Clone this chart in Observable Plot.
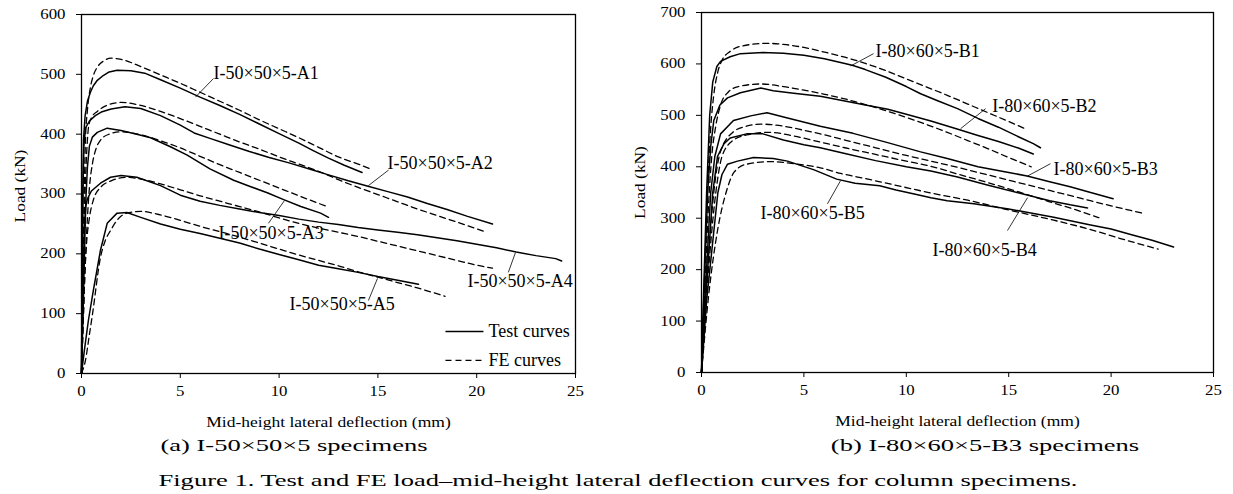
<!DOCTYPE html>
<html><head><meta charset="utf-8">
<script src="https://cdn.jsdelivr.net/npm/d3@7"></script>
<script src="https://cdn.jsdelivr.net/npm/@observablehq/plot@0.6"></script>
<style>
html,body{margin:0;padding:0;background:#fff;}
#fig{position:relative;width:1233px;height:494px;overflow:hidden;font-family:'Liberation Serif','Times New Roman',serif;color:#000;background:#fff;}
#fig svg{position:absolute;top:0;}
.cap{position:absolute;white-space:nowrap;font-size:17px;line-height:1;transform:translate(-50%,-50%) scaleX(1.56);}
</style></head><body><div id="fig"></div>
<script>
// ---------- tick labels ----------
const xTicks = [0, 5, 10, 15, 20, 25];
const yTicksA = [0, 100, 200, 300, 400, 500, 600];
const yTicksB = [0, 100, 200, 300, 400, 500, 600, 700];

// ---------- panel (a): I-50x50x5 specimens, [deflection mm, load kN] ----------
const A1_test = [[0,0],[0.03,150],[0.06,280],[0.1,390],[0.18,430],[0.3,455],[0.45,470],[0.6,481],[0.8,490],[1.1,498],[1.4,504],[1.8,507],[2.5,506],[3.2,502],[4,491],[5,477],[6,462],[7,448],[8,433],[9,417],[10,401],[11,385],[11.7,373],[12.5,360],[13.3,348],[14.2,336]];
const A1_FE = [[0,0],[0.05,120],[0.1,230],[0.15,320],[0.2,390],[0.3,440],[0.45,478],[0.6,498],[0.8,512],[1.1,522],[1.5,527],[2,525],[3,513],[4,499],[5,485],[6,470],[7,455],[8,440],[9,424],[10,409],[11,394],[12,378],[13,362],[14,350],[14.6,342]];
const A2_test = [[0,0],[0.03,150],[0.07,300],[0.12,380],[0.2,410],[0.4,422],[0.7,431],[1,437],[1.5,442],[2.2,446],[3,443],[4,431],[5,415],[5.7,402],[6.5,393],[7.5,382],[8.5,371],[9.5,361],[10.5,352],[11.7,340],[12.5,332],[13.5,322],[14.5,313],[15.5,304],[16.5,295],[17.5,284],[18.5,274],[19.5,263],[20.8,250]];
const A2_FE = [[0,0],[0.06,120],[0.12,230],[0.2,320],[0.28,380],[0.37,415],[0.55,430],[0.8,438],[1.2,447],[2,453],[3,448],[4,438],[5,426],[6,413],[7,400],[8,387],[9,375],[10,362],[11,350],[12,338],[13,324],[14,311],[15,299],[16,287],[17,275],[18,264],[19,253],[20.5,236]];
const A3_test = [[0,0],[0.08,100],[0.15,200],[0.22,290],[0.3,345],[0.4,380],[0.55,395],[0.8,403],[1.3,410],[2,406],[2.8,400],[3.5,394],[4.5,379],[5.35,365],[6.5,342],[7.7,323],[8.5,313],[9.4,302],[10.2,291],[11.1,279],[12.1,268],[12.5,261]];
const A3_FE = [[0,0],[0.1,100],[0.2,190],[0.3,260],[0.4,310],[0.55,350],[0.75,377],[0.96,390],[1.4,400],[2,404],[3,399],[4,389],[5,377],[6,363],[7,349],[8,336],[9,323],[10,310],[11,297],[12.35,280]];
const A4_test = [[0,0],[0.05,100],[0.1,190],[0.16,250],[0.22,280],[0.3,292],[0.5,305],[0.96,318],[1.47,328],[2,331],[2.8,328],[4,314],[5,298],[6,288],[7,281],[8,275],[9,269],[10,264],[11,258],[12,253],[13,249],[14,244],[15,240],[16,236],[17,232],[18,227],[19,222],[20,216],[21,210],[22,203],[23,197],[24,192],[24.3,188]];
const A4_FE = [[0,0],[0.08,80],[0.16,160],[0.25,215],[0.4,260],[0.6,290],[0.96,311],[1.5,322],[2.3,328],[3,325],[4,317],[5,307],[6,297],[7,288],[8,279],[9,270],[10,260],[11.1,250],[12,243],[13,236],[14,229],[15,221],[16,213],[17,205],[18,197],[19,189],[20,181],[20.8,176]];
const A5_test = [[0,0],[0.15,40],[0.35,89],[0.6,139],[0.96,206],[1.3,251],[1.8,268],[2.3,269],[3,261],[4,250],[5,241],[6,234],[7,226],[8,218],[9,208],[10,199],[11,190],[12,181],[13,175],[14,169],[15,162],[16,156],[17.05,149]];
const A5_FE = [[0,0],[0.2,22],[0.4,65],[0.56,100],[0.96,194],[1.2,222],[1.47,239],[1.9,260],[2.3,268],[3,271],[4,265],[5,256],[6,246],[7,237],[8,228],[9,218],[10,208],[11,198],[12,189],[13,180],[14,170],[15,161],[16,152],[17,143],[18.4,129]];

// ---------- panel (b): I-80x60x5 specimens ----------
const B1_test = [[0,0],[0.1,150],[0.25,350],[0.4,500],[0.55,565],[0.75,595],[0.93,605],[1.4,614],[1.9,620],[3,622],[4,621],[5,617],[6,610],[7,601],[7.4,597],[8,589],[9,574],[10,556],[10.7,542],[11.5,529],[12.5,513],[13.5,494],[14.5,477],[15.5,458],[16.2,445],[16.55,437]];
const B1_FE = [[0,0],[0.15,180],[0.3,360],[0.44,470],[0.6,540],[0.8,585],[1,607],[1.42,625],[2,635],[3.2,640],[4,638],[5,632],[6,623],[7,613],[8,601],[9,587],[10,571],[11,555],[12,539],[13,522],[14,505],[15,488],[15.8,474]];
const B2_test = [[0,0],[0.1,130],[0.3,350],[0.45,440],[0.6,490],[0.9,520],[1.27,534],[1.9,544],[2.9,553],[3.5,548],[4.5,543],[5.8,537],[7,528],[8,520],[9.1,512],[10,502],[11.2,489],[12.6,472],[13.5,461],[14.5,449],[15.5,436],[16.2,425]];
const B2_FE = [[0,0],[0.15,150],[0.35,330],[0.5,420],[0.7,480],[0.93,520],[1.3,545],[1.8,556],[2.9,561],[4,556],[5,549],[6,541],[7,532],[8,521],[9,509],[10,496],[11,482],[12,467],[13,451],[14,435],[15,418],[16.1,400]];
const B3_test = [[0,0],[0.15,130],[0.45,350],[0.65,420],[0.93,464],[1.56,490],[2.4,499],[3.2,505],[4.2,495],[5.8,479],[7.4,465],[9,448],[10.7,429],[12,416],[13.5,400],[15,389],[15.9,382],[17,371],[18,361],[19,350],[20.1,338]];
const B3_FE = [[0,0],[0.2,140],[0.6,350],[0.93,430],[1.56,468],[2.2,479],[2.9,483],[4,479],[5,471],[5.8,464],[7,452],[8,442],[9,432],[10,422],[11.2,411],[12.5,399],[14,384],[15.5,369],[17,354],[18.5,339],[20,324],[21.5,310]];
const B4_test = [[0,0],[0.2,140],[0.55,350],[0.78,420],[1.1,445],[1.4,456],[2.2,464],[3,464],[4,452],[5,443],[5.8,437],[7,426],[8.5,412],[10,400],[11.2,392],[12.5,380],[14,364],[15.9,345],[17,334],[18,326],[18.85,320]];
const B4_FE = [[0,0],[0.25,150],[0.7,350],[1,420],[1.5,450],[2.2,462],[3.3,467],[4.5,460],[5.8,448],[7,437],[8.5,424],[10,411],[11.2,401],[12.5,386],[14,369],[15.5,351],[17,332],[18.3,316],[19.4,301]];
const B5_test = [[0,0],[0.25,140],[0.8,350],[1,385],[1.27,405],[1.76,411],[2.54,418],[3.5,416],[4.2,411],[5.5,394],[6.6,376],[7.5,368],[8.7,363],[9.5,355],[10.5,346],[11.2,340],[12,334],[13.3,328],[15,318],[17.2,302],[19,287],[20,279],[21,268],[22,257],[23.05,244]];
const B5_FE = [[0,0],[0.35,150],[0.8,280],[1.2,350],[1.6,390],[2.2,405],[3.4,410],[4.5,406],[5.8,398],[6.8,387],[8,377],[9.5,364],[11.2,349],[13,335],[15,316],[17,298],[19,278],[20.5,260],[22.3,240]];

// ---------- annotations (data units): label anchor and leader line ----------
const notesA = [
  {name:"I-50\u00d750\u00d75-A1", tx:6.68, ty:502, x1:6.68, y1:493, x2:5.77, y2:462},
  {name:"I-50\u00d750\u00d75-A2", tx:15.49, ty:351, x1:15.54, y1:340, x2:14.52, y2:314},
  {name:"I-50\u00d750\u00d75-A3", tx:6.93, ty:235, x1:9.46, y1:251, x2:10.27, y2:289},
  {name:"I-50\u00d750\u00d75-A4", tx:19.53, ty:154, x1:21.6, y1:169, x2:21.96, y2:202},
  {name:"I-50\u00d750\u00d75-A5", tx:10.53, ty:115, x1:14.52, y1:122, x2:14.98, y2:159}
];
const notesB = [
  {name:"I-80\u00d760\u00d75-B1", tx:8.5, ty:625, x1:8.4, y1:620, x2:7.28, y2:596},
  {name:"I-80\u00d760\u00d75-B2", tx:14.2, ty:518, x1:13.87, y1:513, x2:12.65, y2:474},
  {name:"I-80\u00d760\u00d75-B3", tx:17.19, ty:396, x1:17.04, y1:406, x2:15.92, y2:382},
  {name:"I-80\u00d760\u00d75-B4", tx:11.28, ty:237, x1:14.94, y1:276, x2:15.92, y2:340},
  {name:"I-80\u00d760\u00d75-B5", tx:2.88, ty:309, x1:6.15, y1:328, x2:6.79, y2:373}
];
const legendA = [
  {name:"Test curves", kind:"test", x1:18.42, x2:20.34, y:70, tx:20.6},
  {name:"FE curves", kind:"fe", x1:18.42, x2:20.34, y:22, tx:20.6}
];

const xTitle = "Mid-height lateral deflection (mm)";
const yTitle = "Load (kN)";
const FONT = "'Liberation Serif','Times New Roman',serif";

function rows(list) {
  const out = [];
  for (const [id, kind, pts] of list) for (const [x, y] of pts) out.push({id, kind, x, y});
  return out;
}
const rowsA = rows([["A1","test",A1_test],["A1","fe",A1_FE],["A2","test",A2_test],["A2","fe",A2_FE],["A3","test",A3_test],["A3","fe",A3_FE],["A4","test",A4_test],["A4","fe",A4_FE],["A5","test",A5_test],["A5","fe",A5_FE]]);
const rowsB = rows([["B1","test",B1_test],["B1","fe",B1_FE],["B2","test",B2_test],["B2","fe",B2_FE],["B3","test",B3_test],["B3","fe",B3_FE],["B4","test",B4_test],["B4","fe",B4_FE],["B5","test",B5_test],["B5","fe",B5_FE]]);

function panel({data, notes, yMax, yTicks, width, marginLeft, marginRight, marginTop, marginBottom, legend, titleDy}) {
  const marks = [
    Plot.axisX({ticks: xTicks, tickSize: 5, tickPadding: 8, label: null, fontSize: 14}),
    Plot.axisY({ticks: yTicks, tickSize: 5, tickPadding: 11, label: null, fontSize: 14}),
    Plot.frame({stroke: "black", strokeWidth: 1.3}),
    Plot.line(data.filter(d => d.kind === "test"), {x: "x", y: "y", z: "id", stroke: "black", strokeWidth: 1.5}),
    Plot.line(data.filter(d => d.kind === "fe"), {x: "x", y: "y", z: "id", stroke: "black", strokeWidth: 1.3, strokeDasharray: "6,4", curve: "monotone-x"}),
    Plot.link(notes, {x1: "x1", y1: "y1", x2: "x2", y2: "y2", stroke: "black", strokeWidth: 0.8}),
    Plot.text(notes, {x: "tx", y: "ty", text: "name", textAnchor: "start", lineAnchor: "middle", fontSize: 18}),
    Plot.text([xTitle], {frameAnchor: "bottom", dy: 49, text: d => d, lineAnchor: "middle", fontSize: 14}),
    Plot.text([yTitle], {frameAnchor: "left", dx: -61, dy: titleDy, rotate: -90, textAnchor: "middle", lineAnchor: "middle", text: d => d, fontSize: 14})
  ];
  if (legend) {
    marks.push(
      Plot.link(legend.filter(d => d.kind === "test"), {x1: "x1", x2: "x2", y1: "y", y2: "y", stroke: "black", strokeWidth: 1.5}),
      Plot.link(legend.filter(d => d.kind === "fe"), {x1: "x1", x2: "x2", y1: "y", y2: "y", stroke: "black", strokeWidth: 1.3, strokeDasharray: "6,4"}),
      Plot.text(legend, {x: "tx", y: "y", text: "name", textAnchor: "start", lineAnchor: "middle", fontSize: 18})
    );
  }
  return Plot.plot({
    width, height: 432, marginLeft, marginRight, marginTop, marginBottom,
    style: {fontFamily: FONT, fontSize: "14px", color: "black", background: "transparent", overflow: "visible"},
    x: {domain: [0, 25], label: null},
    y: {domain: [0, yMax], label: null},
    marks
  });
}

function stretch(svg) {
  svg.querySelectorAll('g[aria-label="x-axis tick label"] text, g[aria-label="y-axis tick label"] text').forEach(t => {
    const L = t.getComputedTextLength();
    t.setAttribute("textLength", (L * 1.2).toFixed(2));
    t.setAttribute("lengthAdjust", "spacingAndGlyphs");
  });
  svg.querySelectorAll("text").forEach(t => {
    const s = t.textContent;
    let f = 0;
    if (s === xTitle) f = 1.25;
    if (s === yTitle) f = 1.24;
    if (f) {
      const L = t.getComputedTextLength();
      t.setAttribute("textLength", (L * f).toFixed(2));
      t.setAttribute("lengthAdjust", "spacingAndGlyphs");
    }
  });
}

const fig = document.getElementById("fig");
const svgA = panel({data: rowsA, notes: notesA, yMax: 600, yTicks: yTicksA, width: 620, marginLeft: 81, marginRight: 45, marginTop: 14, marginBottom: 59, legend: legendA, titleDy: -8});
svgA.style.left = "0px";
fig.appendChild(svgA);
const svgB = panel({data: rowsB, notes: notesB, yMax: 700, yTicks: yTicksB, width: 613, marginLeft: 81, marginRight: 20, marginTop: 12, marginBottom: 60, legend: null, titleDy: -10});
svgB.style.left = "620px";
fig.appendChild(svgB);
stretch(svgA);
stretch(svgB);

const caps = [
  {text: "(a) I-50\u00d750\u00d75 specimens", x: 294, y: 445},
  {text: "(b) I-80\u00d760\u00d75-B3 specimens", x: 985, y: 445},
  {text: "Figure 1. Test and FE load\u2013mid-height lateral deflection curves for column specimens.", x: 618, y: 480}
];
for (const c of caps) {
  const d = document.createElement("div");
  d.className = "cap";
  d.textContent = c.text;
  d.style.left = c.x + "px";
  d.style.top = c.y + "px";
  fig.appendChild(d);
}
</script></body></html>
